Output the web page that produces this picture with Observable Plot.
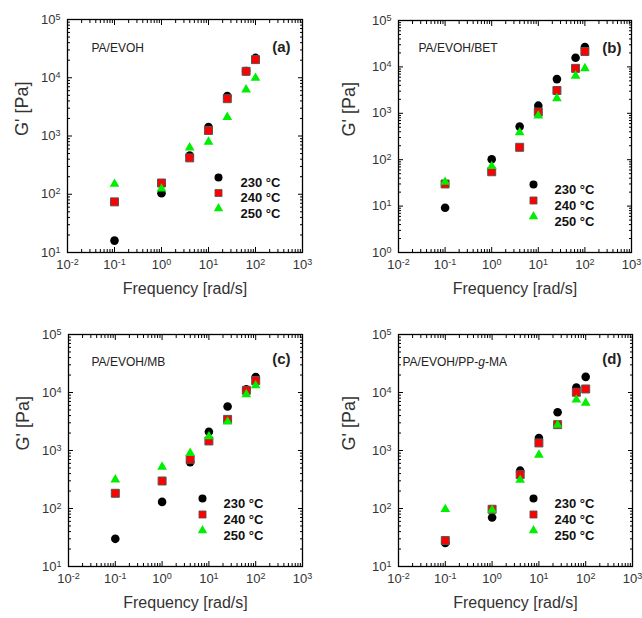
<!DOCTYPE html>
<html><head><meta charset="utf-8">
<script src="https://cdn.jsdelivr.net/npm/d3@7"></script>
<script src="https://cdn.jsdelivr.net/npm/@observablehq/plot@0.6"></script>
<style>
body{margin:0;background:#fff;}
#grid{display:grid;grid-template-columns:321px 321px;grid-template-rows:309px 309px;width:642px;height:618px;}
#grid svg{display:block;overflow:visible}
</style></head><body><div id="grid"></div>
<script>
// ---- data ----
const freq = [0.1, 1, 3.98, 10, 25.1, 63.1, 100];
const temps = ["230 °C", "240 °C", "250 °C"];
const panelTags = ["(a)", "(b)", "(c)", "(d)"];
const panelNames = ["PA/EVOH", "PA/EVOH/BET", "PA/EVOH/MB", "PA/EVOH/PP-g-MA"];
const xExps = [-2, -1, 0, 1, 2, 3];
const yExpsA = [1, 2, 3, 4, 5];
const yExpsB = [0, 1, 2, 3, 4, 5];
const xTitle = "Frequency [rad/s]";
const yTitle = "G' [Pa]";

const gA230 = [16, 104, 461, 1420, 4850, 13000, 21900];
const gA240 = [74, 156, 421, 1245, 4370, 12900, 20500];
const gA250 = [150, 124, 630, 790, 2110, 6240, 9900];

const gB230 = [9.2, 102, 517, 1460, 5460, 15700, 26700];
const gB240 = [30, 55, 185, 1065, 3100, 9300, 21500];
const gB250 = [33, 72, 385, 890, 2100, 6400, 9300];

const gC230 = [30, 130, 631, 2110, 5750, 11300, 18400];
const gC240 = [183, 298, 705, 1460, 3440, 10900, 16100];
const gC250 = [315, 520, 900, 1740, 3130, 9300, 13200];

const gD230 = [25.5, 70, 449, 1640, 4560, 12200, 18600];
const gD240 = [28, 97, 383, 1350, 2790, 10100, 11500];
const gD250 = [97, 94, 310, 840, 2750, 7500, 6600];

const seriesAll = [[gA230, gA240, gA250], [gB230, gB240, gB250], [gC230, gC240, gC250], [gD230, gD240, gD250]];

// ---- layout/style config ----
const layouts = [
  {m: [19, 19, 57, 67], yExps: yExpsA, leg: [151, 158, 15.5, 22], name: [24, 24], tag: [12, 22], yt: -45},
  {m: [20, 11, 57, 77], yExps: yExpsB, leg: [135, 164, 16, 21], name: [20, 23], tag: [10, 22], yt: -49},
  {m: [25, 19, 52, 68], yExps: yExpsA, leg: [134, 164, 16, 21], name: [23, 23], tag: [12, 19], yt: -45},
  {m: [25, 10, 52, 77], yExps: yExpsA, leg: [135, 164, 16, 21], name: [4, 23], tag: [11, 19], yt: -49}
];
const styles = [
  {symbol: "circle", fill: "#000000", stroke: "none", r: 4.3, lr: 4},
  {symbol: "square", fill: "#ff0000", stroke: "#555555", r: 4.5, lr: 4},
  {symbol: "triangle", fill: "#00ee00", stroke: "none", r: 3.6, lr: 3.5}
];
const FONT = "'Liberation Sans', Arial, Helvetica, sans-serif";
const GRAY = "#333333";

function minors(exps) {
  const out = [];
  for (let i = 0; i < exps.length - 1; i++) for (let m = 2; m <= 9; m++) out.push(m * 10 ** exps[i]);
  return out;
}
const fmt = d => "10^" + Math.round(Math.log10(d));

function makePanel(i) {
  const L = layouts[i];
  const [mt, mr, mb, ml] = L.m;
  const xMajor = xExps.map(e => 10 ** e);
  const yMajor = L.yExps.map(e => 10 ** e);
  const xMinor = minors(xExps), yMinor = minors(L.yExps);
  const pts = [];
  seriesAll[i].forEach((vals, t) => vals.forEach((v, j) => pts.push({f: freq[j], g: v, t})));

  const tk = {tickFormat: () => "", label: null, stroke: "#000"};
  const marks = [
    // inward ticks on all four sides
    Plot.axisX(xMajor, {...tk, anchor: "bottom", tickSize: 5, dy: -5}),
    Plot.axisX(xMinor, {...tk, anchor: "bottom", tickSize: 3, dy: -3}),
    Plot.axisX(xMajor, {...tk, anchor: "top", tickSize: 5, dy: 5}),
    Plot.axisX(xMinor, {...tk, anchor: "top", tickSize: 3, dy: 3}),
    Plot.axisY(yMajor, {...tk, anchor: "left", tickSize: 5, dx: 5}),
    Plot.axisY(yMinor, {...tk, anchor: "left", tickSize: 3, dx: 3}),
    Plot.axisY(yMajor, {...tk, anchor: "right", tickSize: 5, dx: -5}),
    Plot.axisY(yMinor, {...tk, anchor: "right", tickSize: 3, dx: -3}),
    // tick labels
    Plot.axisX(xMajor, {anchor: "bottom", tickSize: 0, tickPadding: 7, tickFormat: fmt, label: null, fontSize: 13, fill: GRAY}),
    Plot.axisY(yMajor, {anchor: "left", tickSize: 0, tickPadding: 7, tickFormat: fmt, label: null, fontSize: 13, fill: GRAY}),
    Plot.frame({stroke: "#000", strokeWidth: 1.3}),
    // axis titles
    Plot.text([xTitle], {frameAnchor: "bottom", dy: 41, text: d => d, fontSize: 16, fill: GRAY}),
    Plot.text([yTitle], {frameAnchor: "left", dx: L.yt, rotate: -90, text: d => d, fontSize: 18, fill: GRAY}),
    // panel name and tag
    Plot.text([panelNames[i]], {frameAnchor: "top-left", dx: L.name[0], dy: L.name[1], text: d => d, textAnchor: "start", fontSize: 12, fill: "#222"}),
    Plot.text([panelTags[i]], {frameAnchor: "top-right", dx: -L.tag[0], dy: L.tag[1], text: d => d, textAnchor: "end", fontSize: 15, fontWeight: "bold", fill: "#222"})
  ];
  // data points
  styles.forEach((s, t) => {
    marks.push(Plot.dot(pts.filter(d => d.t === t), {x: "f", y: "g", symbol: s.symbol, r: s.r, fill: s.fill, stroke: s.stroke, strokeWidth: 1}));
  });
  // legend
  const [lx, ly, lstep, ltx] = L.leg;
  styles.forEach((s, t) => {
    marks.push(Plot.dot([temps[t]], {frameAnchor: "top-left", dx: lx, dy: ly + t * lstep, symbol: s.symbol, r: s.lr, fill: s.fill, stroke: s.stroke, strokeWidth: 0.8}));
    marks.push(Plot.text([temps[t]], {frameAnchor: "top-left", dx: lx + ltx, dy: ly + t * lstep, text: d => d, textAnchor: "start", fontSize: 13, fontWeight: "bold", fill: "#111"}));
  });

  const svg = Plot.plot({
    width: 321, height: 309,
    marginTop: mt, marginRight: mr, marginBottom: mb, marginLeft: ml,
    style: {fontFamily: FONT, background: "#fff", color: "#000"},
    x: {type: "log", domain: [xMajor[0], xMajor[xMajor.length - 1]]},
    y: {type: "log", domain: [yMajor[0], yMajor[yMajor.length - 1]]},
    marks
  });

  // superscript exponents and italic g
  svg.querySelectorAll("text").forEach(el => {
    const s = el.textContent;
    if (s.startsWith("10^")) {
      const e = s.slice(3);
      el.textContent = "10";
      const ts = document.createElementNS("http://www.w3.org/2000/svg", "tspan");
      ts.setAttribute("dy", "-0.45em");
      ts.setAttribute("font-size", "9");
      ts.textContent = e;
      el.appendChild(ts);
    } else if (s === "PA/EVOH/PP-g-MA") {
      el.textContent = "PA/EVOH/PP-";
      const ts = document.createElementNS("http://www.w3.org/2000/svg", "tspan");
      ts.setAttribute("font-style", "italic");
      ts.textContent = "g";
      el.appendChild(ts);
      el.appendChild(document.createTextNode("-MA"));
    }
  });
  return svg;
}

const grid = document.getElementById("grid");
for (let i = 0; i < 4; i++) grid.appendChild(makePanel(i));
</script>
</body></html>
